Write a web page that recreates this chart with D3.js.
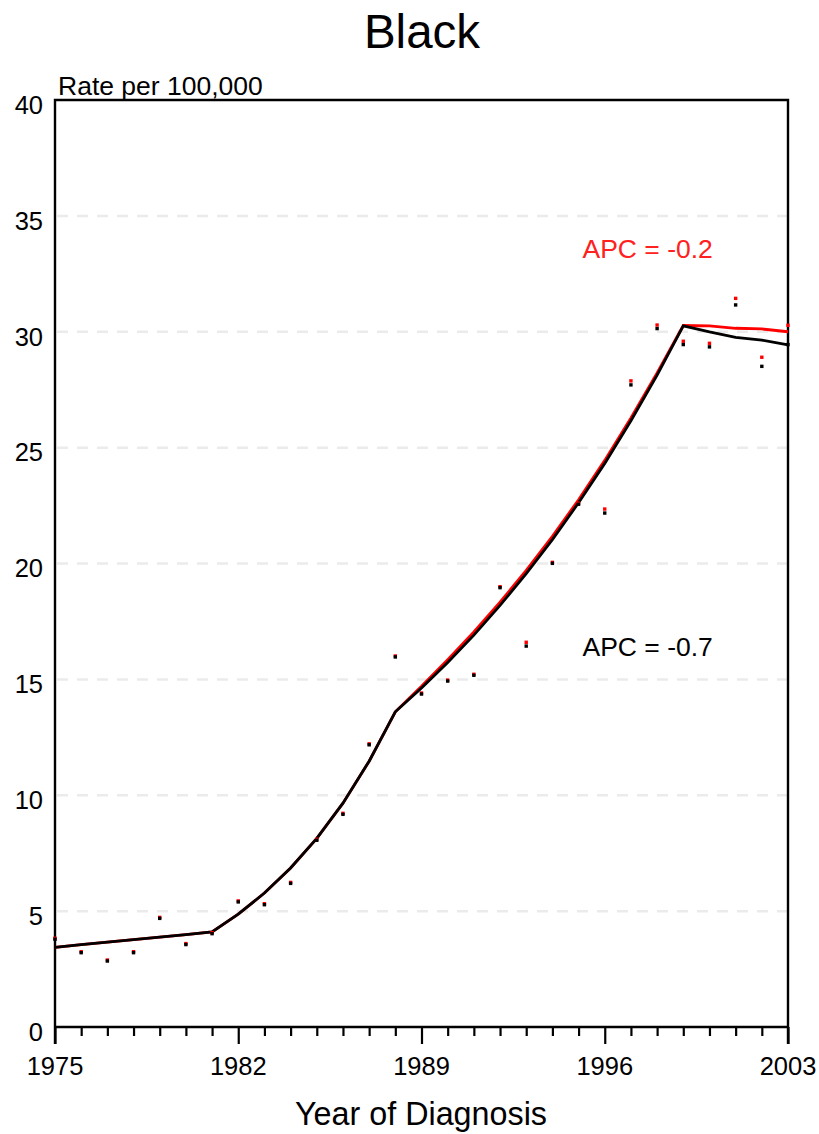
<!DOCTYPE html>
<html>
<head>
<meta charset="utf-8">
<script src="https://cdn.jsdelivr.net/npm/d3@7"></script>
<style>
  html, body { margin: 0; padding: 0; background: #fff; }
  svg { display: block; font-family: "Liberation Sans", Arial, sans-serif; }
</style>
</head>
<body>
<svg id="chart" width="819" height="1134"></svg>
<script>
// ---- data ----
const years = d3.range(1975, 2004);
// observed rates (black series)
const obsBlack = [3.83, 3.25, 2.89, 3.25, 4.73, 3.60, 4.07, 5.44, 5.32, 6.24,
                  8.10, 9.22, 12.22, 16.01, 14.41, 14.97, 15.22, 19.00, 16.48, 20.05,
                  22.60, 22.22, 27.75, 30.18, 29.49, 29.39, 31.20, 28.55, 29.49];
// observed rates (red series)
const obsRed   = [3.83, 3.25, 2.89, 3.25, 4.73, 3.60, 4.07, 5.44, 5.32, 6.24,
                  8.10, 9.22, 12.22, 16.01, 14.41, 14.97, 15.22, 19.00, 16.60, 20.05,
                  22.60, 22.35, 27.88, 30.29, 29.59, 29.50, 31.44, 28.90, 30.28];
// joinpoint fitted values
const fitBlack = [3.44, 3.55, 3.66, 3.77, 3.88, 3.99, 4.10, 4.87, 5.78, 6.86,
                  8.14, 9.66, 11.47, 13.60, 14.63, 15.73, 16.91, 18.19, 19.56, 21.03,
                  22.62, 24.32, 26.16, 28.13, 30.25, 29.99, 29.76, 29.64, 29.43];
const fitRed   = [3.44, 3.55, 3.66, 3.77, 3.88, 3.99, 4.10, 4.87, 5.78, 6.86,
                  8.14, 9.66, 11.47, 13.60, 14.70, 15.85, 17.05, 18.33, 19.70, 21.17,
                  22.75, 24.45, 26.28, 28.22, 30.27, 30.25, 30.15, 30.12, 30.00];
const xTickLabels = [1975, 1982, 1989, 1996, 2003];
const yTickLabels = [0, 5, 10, 15, 20, 25, 30, 35, 40];
const gridValues = [5, 10, 15, 20, 25, 30, 35];
const apcLabels = [{text: "APC = -0.2", color: "#ff2020", year: 1995.15, value: 33.2},
                   {text: "APC = -0.7", color: "#000000", year: 1995.15, value: 16.0}];

(function () {
// ---- layout ----
const svg = d3.select("#chart");
const L = 55, R = 788, T = 100, B = 1027;
const x = d3.scaleLinear().domain([1975, 2003]).range([L, R]);
const y = d3.scaleLinear().domain([0, 40]).range([B, T]);

// grid
svg.append("g").selectAll("line").data(gridValues).join("line")
  .attr("x1", L + 2).attr("x2", R - 1)
  .attr("y1", d => y(d)).attr("y2", d => y(d))
  .attr("stroke", "#ebebeb").attr("stroke-width", 2.5)
  .attr("stroke-dasharray", "11,9");

// titles
svg.append("text").attr("x", 422).attr("y", 48).attr("text-anchor", "middle")
  .attr("font-size", 47.5).text("Black");
svg.append("text").attr("x", 58).attr("y", 95)
  .attr("font-size", 26.5).text("Rate per 100,000");
svg.append("text").attr("x", 421).attr("y", 1125).attr("text-anchor", "middle")
  .attr("font-size", 32.3).text("Year of Diagnosis");

// x axis (bottom)
const xAxis = d3.axisBottom(x).tickValues(years).tickSize(9).tickFormat("");
const gx = svg.append("g").attr("transform", `translate(0,${B})`).call(xAxis);
gx.select(".domain").remove();
gx.selectAll(".tick line").attr("stroke", "#000").attr("stroke-width", 2.2)
  .attr("y2", d => xTickLabels.includes(d) ? 17 : 9);
svg.append("g").selectAll("text").data(xTickLabels).join("text")
  .attr("x", d => x(d)).attr("y", B + 48).attr("text-anchor", "middle")
  .attr("font-size", 25.5).text(d => d);

// y axis labels
const yAxis = d3.axisLeft(y).tickValues(yTickLabels).tickSize(0).tickPadding(12);
const gy = svg.append("g").attr("transform", `translate(${L},0)`).call(yAxis);
gy.select(".domain").remove();
gy.selectAll(".tick text").attr("font-size", 25.5).attr("fill", "#000")
  .attr("font-family", "Liberation Sans, Arial, sans-serif").attr("dy", "0.68em")
  .attr("y", -4);

// frame
svg.append("path")
  .attr("d", `M${L},${B + 17} L${L},${T} L${R},${T} L${R},${B + 17} M${L},${B} L${R},${B}`)
  .attr("fill", "none").attr("stroke", "#000").attr("stroke-width", 2.4);

// fitted lines
const line = d3.line().x((d, i) => x(years[i])).y(d => y(d));
svg.append("path").datum(fitRed).attr("d", line)
  .attr("fill", "none").attr("stroke", "#ff0000").attr("stroke-width", 2.8);
svg.append("path").datum(fitBlack).attr("d", line)
  .attr("fill", "none").attr("stroke", "#000").attr("stroke-width", 2.8);

// observed points
const sz = 3.4;
svg.append("g").selectAll("rect").data(obsRed).join("rect")
  .attr("x", (d, i) => x(years[i]) - sz / 2).attr("y", d => y(d) - sz / 2)
  .attr("width", sz).attr("height", sz).attr("fill", "#ff0000");
svg.append("g").selectAll("rect").data(obsBlack).join("rect")
  .attr("x", (d, i) => x(years[i]) - sz / 2).attr("y", d => y(d) - sz / 2 + 1)
  .attr("width", sz).attr("height", sz).attr("fill", "#000");

// APC labels
svg.append("g").selectAll("text").data(apcLabels).join("text")
  .attr("x", d => x(d.year)).attr("y", d => y(d.value))
  .attr("font-size", 26.5).attr("fill", d => d.color).text(d => d.text);
})();
</script>
</body>
</html>
